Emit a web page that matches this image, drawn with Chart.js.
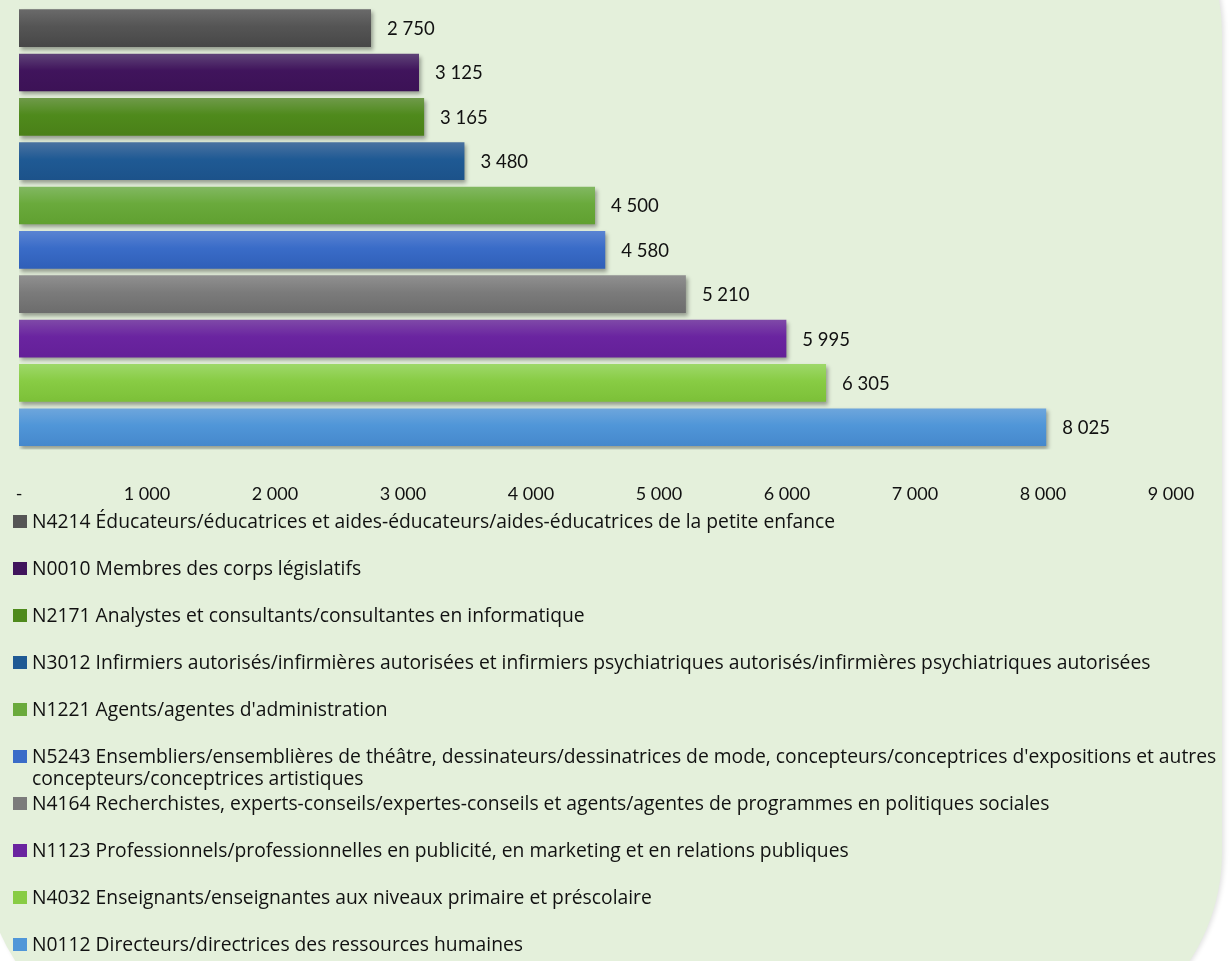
<!DOCTYPE html>
<html><head><meta charset="utf-8">
<script src="https://cdn.jsdelivr.net/npm/chart.js@4.4.1/dist/chart.umd.min.js"></script>
<style>
html,body{margin:0;padding:0;background:#fff;overflow:hidden;}
body{width:1230px;height:961px;position:relative;font-family:"Open Sans", sans-serif;}
#bg{position:absolute;left:-17px;top:-166px;width:1239px;height:1218px;border-radius:200px;background:#E4F0DB;box-shadow:2px 0 5px rgba(0,0,0,0.12);}
#wrap{position:absolute;left:0;top:0;width:1230px;height:505px;}
#legend{position:absolute;left:0;top:0;width:1230px;height:961px;}
.li{position:absolute;left:13px;display:flex;align-items:flex-start;font-size:19.3px;line-height:22px;color:#111;}
.sw{width:14px;height:13px;margin-top:5px;margin-right:5px;flex:none;}
.tx{width:1192px;}
</style></head><body>
<div id="bg"></div>
<div id="wrap"><canvas id="c"></canvas></div>
<div id="legend"></div>
<script>
const categories = [
  "N4214 Éducateurs/éducatrices et aides-éducateurs/aides-éducatrices de la petite enfance",
  "N0010 Membres des corps législatifs",
  "N2171 Analystes et consultants/consultantes en informatique",
  "N3012 Infirmiers autorisés/infirmières autorisées et infirmiers psychiatriques autorisés/infirmières psychiatriques autorisées",
  "N1221 Agents/agentes d'administration",
  "N5243 Ensembliers/ensemblières de théâtre, dessinateurs/dessinatrices de mode, concepteurs/conceptrices d'expositions et autres concepteurs/conceptrices artistiques",
  "N4164 Recherchistes, experts-conseils/expertes-conseils et agents/agentes de programmes en politiques sociales",
  "N1123 Professionnels/professionnelles en publicité, en marketing et en relations publiques",
  "N4032 Enseignants/enseignantes aux niveaux primaire et préscolaire",
  "N0112 Directeurs/directrices des ressources humaines"
];
const values = [2750, 3125, 3165, 3480, 4500, 4580, 5210, 5995, 6305, 8025];
const tickLabels = ["-", "1 000", "2 000", "3 000", "4 000", "5 000", "6 000", "7 000", "8 000", "9 000"];

const colorMain   = ["#555555","#40145c","#4f8a1c","#1f5a94","#6aaa3c","#3a6cc8","#7b7b7b","#6a24a0","#88cc44","#5096d8"];
const colorTop    = ["#6a6a6a","#5f4478","#6f9a4a","#4a72a0","#82b862","#5a84d2","#909090","#7f4aa8","#9ed86a","#6ea6dc"];
const colorBottom = ["#474747","#3c1256","#4a8018","#1c528a","#60a030","#2f5fb8","#6c6c6c","#642098","#7cc038","#4688cc"];

const fmt = n => String(n).replace(/\B(?=(\d{3})+(?!\d))/g, " ");

function grad(ctx){
  const i = ctx.dataIndex;
  if (ctx.type !== 'data') return colorMain[i];
  const chart = ctx.chart, y = chart.scales.y, area = chart.chartArea;
  if (!y || !area) return colorMain[i];
  const c = y.getPixelForValue(i);
  const h = (area.bottom - area.top) / categories.length * 0.85 / 2;
  const g = chart.ctx.createLinearGradient(0, c - h, 0, c + h);
  g.addColorStop(0, colorTop[i]);
  g.addColorStop(0.45, colorMain[i]);
  g.addColorStop(1, colorBottom[i]);
  return g;
}

const shadowPlugin = {
  id: 'shadow',
  beforeDatasetsDraw(chart){ const c = chart.ctx; c.save(); c.shadowColor = 'rgba(0,0,0,0.35)'; c.shadowBlur = 4; c.shadowOffsetX = 2; c.shadowOffsetY = 3; },
  afterDatasetsDraw(chart){ chart.ctx.restore(); }
};
const valuePlugin = {
  id: 'vals',
  afterDatasetsDraw(chart){
    const c = chart.ctx, meta = chart.getDatasetMeta(0);
    c.save(); c.font = '18.5px Lato'; c.fillStyle = '#111'; c.textBaseline = 'middle'; c.textAlign = 'left';
    meta.data.forEach((b, i) => c.fillText(fmt(values[i]), b.x + 16, b.y + 1));
    c.restore();
  }
};

new Chart(document.getElementById('c'), {
  type: 'bar',
  data: { labels: categories, datasets: [{ data: values, backgroundColor: grad, borderWidth: 0, barPercentage: 0.85, categoryPercentage: 1 }] },
  options: {
    indexAxis: 'y', responsive: true, maintainAspectRatio: false, animation: false,
    layout: { padding: { left: 19, right: 59, top: 6, bottom: 0 } },
    plugins: { legend: { display: false }, tooltip: { enabled: false } },
    scales: {
      x: { min: 0, max: 9000,
           ticks: { stepSize: 1000, autoSkip: false, maxRotation: 0, padding: 0, color: '#111', font: { family: 'Lato', size: 18 },
                    callback: v => tickLabels[Math.round(v / 1000)] },
           grid: { display: false, drawOnChartArea: false, drawTicks: true, tickLength: 34, tickColor: 'rgba(0,0,0,0)' },
           border: { display: false } },
      y: { display: false }
    }
  },
  plugins: [shadowPlugin, valuePlugin]
});

const leg = document.getElementById('legend');
categories.forEach((t, i) => {
  const d = document.createElement('div'); d.className = 'li'; d.style.top = (510 + i * 47) + 'px';
  const s = document.createElement('div'); s.className = 'sw'; s.style.background = colorMain[i];
  const x = document.createElement('div'); x.className = 'tx'; x.textContent = t;
  d.appendChild(s); d.appendChild(x); leg.appendChild(d);
});
</script>
</body></html>
